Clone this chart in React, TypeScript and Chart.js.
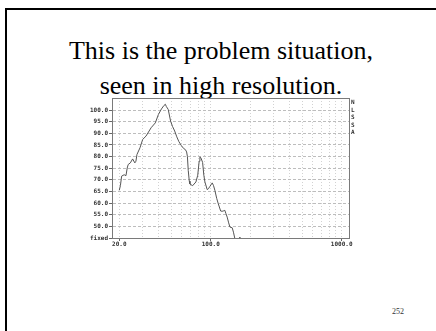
import React, { useEffect, useRef } from "react";
import { Chart, registerables } from "chart.js";

Chart.register(...registerables);

// Frequency (x, log scale) and level (y)
const freqs = [
  20, 20.4, 20.85, 21.8, 22.5, 23.0, 23.4, 24.3, 25.3, 26.3, 26.8, 27.3, 28.8, 30.2,
  32.0, 35.0, 37.7, 39.8, 42.0, 43.9, 45.0, 45.8, 47.3, 49.3, 51.0, 53.0, 55.0,
  57.0, 59.5, 62.0, 64.0, 65.4, 66.3, 67.3, 68.5, 69.3, 72.7, 77.0, 79.5, 81.5,
  82.6, 84.0, 86.6, 88.5, 90.2, 93.9, 96.0, 98.5, 102.6, 105.0, 107.5, 111.0,
  114.0, 119.0, 122.0, 124.4, 128.0, 130.5, 133.4, 137.0, 140.0, 145.8, 149.0,
  152.8, 157.0, 163.0, 167.0, 171.0,
];
const levels = [
  65.5, 67.5, 71.6, 72.2, 71.8, 75.1, 76.6, 77.3, 79.0, 77.3, 78.0, 80.9, 83.8, 87.4,
  88.8, 92.4, 94.5, 98.1, 100.5, 102.0, 102.5, 101.5, 100.3, 95.3, 93.0, 91.0, 88.5,
  86.5, 84.8, 83.5, 83.0, 82.0, 80.0, 74.0, 69.5, 68.2, 67.5, 69.1, 72.0, 78.0,
  79.9, 79.5, 77.5, 72.0, 69.1, 65.8, 66.2, 67.2, 68.7, 67.5, 65.5, 62.0,
  59.8, 56.6, 56.5, 56.6, 56.9, 55.5, 54.0, 51.5, 49.7, 49.4, 47.5,
  44.7, 42.5, 44.0, 45.4, 42.0,
];

const xGridValues = [20, 30, 40, 50, 60, 70, 80, 90, 100, 200, 300, 400, 500, 600, 700, 800, 900, 1000];
const xLabelValues = [20, 100, 1000];
const yTickValues = [45, 50, 55, 60, 65, 70, 75, 80, 85, 90, 95, 100];
const yBottomLabel = "fixed";
const sideLetters = ["N", "L", "S", "S", "A"];
const titleLines = ["This is the problem situation,", "seen in high resolution."];
const pageNumber = "252";

const tickFont = { family: "'DejaVu Sans Mono', monospace", size: 6, weight: "bold" as const };

const boxPlugin = {
  id: "plotBox",
  afterDraw(chart: any) {
    const { ctx, chartArea } = chart;
    ctx.save();
    ctx.strokeStyle = "#7a7a7a";
    ctx.lineWidth = 1;
    ctx.strokeRect(
      Math.round(chartArea.left) + 0.5,
      Math.round(chartArea.top) + 0.5,
      Math.round(chartArea.right - chartArea.left),
      Math.round(chartArea.bottom - chartArea.top)
    );
    ctx.restore();
  },
};

function SpectrumChart() {
  const ref = useRef<HTMLCanvasElement | null>(null);
  useEffect(() => {
    if (!ref.current) return;
    const chart = new Chart(ref.current, {
      type: "line",
      data: {
        datasets: [
          {
            data: freqs.map((f, i) => ({ x: f, y: levels[i] })),
            borderColor: "#555",
            borderWidth: 1,
            pointRadius: 0,
            tension: 0,
            fill: false,
          },
        ],
      },
      options: {
        animation: false,
        responsive: false,
        maintainAspectRatio: false,
        layout: { padding: { top: 6, right: 21, left: 0, bottom: 0 } },
        plugins: { legend: { display: false }, tooltip: { enabled: false } },
        scales: {
          x: {
            type: "logarithmic",
            min: 17.6,
            max: 1137,
            afterBuildTicks: (s: any) => {
              s.ticks = xGridValues.map((v) => ({ value: v }));
            },
            afterFit: (s: any) => {
              s.height = 14;
            },
            ticks: {
              autoSkip: false,
              maxRotation: 0,
              padding: 0,
              color: "#333",
              font: tickFont,
              callback: (v: any) => (xLabelValues.includes(Number(v)) ? Number(v).toFixed(1) : ""),
            },
            grid: {
              color: "#d2d2d2",
              lineWidth: 1,
              tickLength: 3,
              tickColor: (c: any) =>
                c.tick && xLabelValues.includes(c.tick.value) ? "#666" : "rgba(0,0,0,0)",
            },
            border: { display: true, color: "#7a7a7a", dash: [1, 2] },
          },
          y: {
            type: "linear",
            min: 45,
            max: 105.2,
            afterBuildTicks: (s: any) => {
              s.ticks = yTickValues.map((v) => ({ value: v }));
            },
            afterFit: (s: any) => {
              s.width = 52;
            },
            ticks: {
              autoSkip: false,
              padding: 1,
              color: "#333",
              font: tickFont,
              callback: (v: any) => (Number(v) === 45 ? yBottomLabel : Number(v).toFixed(1)),
            },
            grid: {
              color: "#bdbdbd",
              lineWidth: 1,
              tickLength: 3,
              tickColor: "#666",
            },
            border: { display: true, color: "#7a7a7a", dash: [3, 2] },
          },
        },
      },
      plugins: [boxPlugin],
    } as any);
    return () => chart.destroy();
  }, []);
  return (
    <canvas
      ref={ref}
      width={310}
      height={160}
      style={{ position: "absolute", left: 60, top: 92, width: 310, height: 160 }}
    />
  );
}

export default function App() {
  return (
    <div
      style={{
        position: "absolute",
        left: 0,
        top: 0,
        width: 436,
        height: 331,
        overflow: "hidden",
        background: "#fff",
      }}
    >
      <div style={{ position: "absolute", left: 5, top: 8, width: 431, height: 2, background: "#000" }} />
      <div style={{ position: "absolute", left: 5, top: 8, width: 2, height: 323, background: "#000" }} />
      {titleLines.map((t, i) => (
        <div
          key={i}
          style={{
            position: "absolute",
            left: 21,
            width: 400,
            top: 33 + i * 35,
            textAlign: "center",
            fontFamily: "'Liberation Serif', 'Times New Roman', serif",
            fontSize: 26,
            lineHeight: "35px",
            color: "#000",
            whiteSpace: "nowrap",
          }}
        >
          {t}
        </div>
      ))}
      <SpectrumChart />
      <div
        style={{
          position: "absolute",
          left: 351,
          top: 98,
          fontFamily: "'DejaVu Sans Mono', monospace",
          fontWeight: "bold",
          fontSize: 6,
          lineHeight: "7.5px",
          color: "#333",
        }}
      >
        {sideLetters.map((l, i) => (
          <div key={i}>{l}</div>
        ))}
      </div>
      <div
        style={{
          position: "absolute",
          left: 392,
          top: 308,
          fontFamily: "'Liberation Serif', serif",
          fontSize: 8,
          lineHeight: "8px",
          color: "#333",
        }}
      >
        {pageNumber}
      </div>
    </div>
  );
}
